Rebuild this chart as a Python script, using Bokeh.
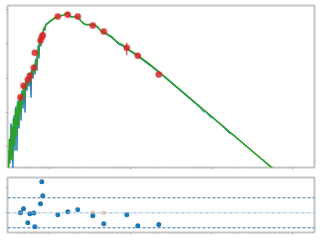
import numpy as np
from bokeh.plotting import figure
from bokeh.layouts import column
from bokeh.models import Range1d, FixedTicker, Span
from bokeh.embed import file_html
from bokeh.resources import INLINE

# ---- data (log10 wavelength, log10 flux) ----
log_wave_model = [2.494, 2.506, 2.519, 2.531, 2.543, 2.556, 2.568, 2.580, 2.593, 2.605,
                  2.617, 2.630, 2.642, 2.654, 2.667, 2.679, 2.691, 2.704, 2.716, 2.728,
                  2.741, 2.753, 2.765, 2.778, 2.790, 2.802, 2.815, 2.827, 2.840, 2.852,
                  2.864, 2.877, 2.889, 2.901, 2.914, 2.926, 2.938, 2.951, 2.963,
                  2.988, 3.012, 3.037, 3.062, 3.086, 3.111, 3.136, 3.160, 3.185, 3.210,
                  3.222, 3.235,
                  3.259, 3.284, 3.309, 3.333, 3.358, 3.383, 3.407, 3.432, 3.457, 3.481,
                  3.506, 3.531, 3.556, 3.580, 3.605, 3.630, 3.654, 3.679, 3.704, 3.728,
                  3.753, 3.778, 3.802, 3.827, 3.852, 3.877, 3.901, 3.926, 3.951, 3.975,
                  4.025, 4.074, 4.123, 4.247, 4.370, 4.617, 4.864, 5.111, 5.358, 5.605,
                  5.728, 6.099]
log_flux_model = [-4.701, -3.766, -4.409, -3.387, -4.409, -3.182, -3.971, -2.891, -3.679, -2.715,
                  -3.387, -2.569, -3.095, -2.423, -2.803, -2.248, -2.599, -2.131, -2.307, -1.985,
                  -2.190, -1.869, -2.073, -1.781, -1.956, -1.635, -1.839, -1.489, -1.664, -1.197,
                  -1.372, -0.905, -1.022, -0.730, -0.788, -0.555, -0.584, -0.467, -0.438,
                  -0.380, -0.336, -0.292, -0.248, -0.219, -0.190, -0.175, -0.175, -0.146, -0.102,
                  -0.088, -0.117,
                  -0.204, -0.219, -0.204, -0.204, -0.234, -0.321, -0.380, -0.423, -0.438, -0.438,
                  -0.438, -0.438, -0.453, -0.482, -0.540, -0.613, -0.642, -0.672, -0.701, -0.745,
                  -0.774, -0.818, -0.876, -0.934, -0.978, -1.007, -1.036, -1.080, -1.124, -1.168,
                  -1.241, -1.314, -1.401, -1.620, -1.860, -2.356, -2.853, -3.349, -3.845, -4.342,
                  -4.584, -5.328]

log_wave_obs = [2.500, 2.512, 2.525, 2.537, 2.549, 2.562, 2.574, 2.586, 2.599, 2.611,
                2.623, 2.636, 2.648, 2.660, 2.673, 2.685, 2.698, 2.710, 2.722, 2.735,
                2.747, 2.759, 2.772, 2.784, 2.796, 2.809, 2.821, 2.833, 2.846, 2.858,
                2.870, 2.883, 2.895, 2.907, 2.920, 2.932, 2.944, 2.957,
                2.988, 3.037, 3.086, 3.136, 3.185, 3.222, 3.259, 3.309, 3.358, 3.407,
                3.457, 3.506, 3.556, 3.605, 3.654, 3.704, 3.753, 3.802, 3.852, 3.901,
                3.951, 4.025, 4.123, 4.247, 4.370, 4.494, 4.617, 4.741, 4.864, 4.901,
                4.926, 4.988, 5.012, 5.111, 5.222, 5.247, 5.333]
log_flux_obs = [-4.117, -4.496, -3.328, -4.117, -4.642, -3.095, -4.117, -2.832, -4.117, -2.657,
                -3.474, -2.540, -3.241, -2.365, -2.891, -2.190, -3.007, -2.073, -2.365, -1.956,
                -2.248, -1.839, -2.569, -1.723, -2.015, -1.606, -1.898, -1.431, -1.781, -1.051,
                -1.431, -0.847, -1.080, -0.701, -0.847, -0.526, -0.613, -0.409,
                -0.394, -0.307, -0.234, -0.190, -0.161, -0.102, -0.219, -0.219, -0.248, -0.394,
                -0.453, -0.453, -0.467, -0.555, -0.672, -0.730, -0.803, -0.905, -1.022, -1.066,
                -1.153, -1.270, -1.431, -1.650, -1.883, -2.131, -2.380, -2.628, -2.876, -2.993,
                -2.978, -3.153, -3.139, -3.358, -3.620, -3.620, -3.796]

log_wave_phot = [2.642, 2.679, 2.732, 2.757, 2.806, 2.819, 2.889, 2.905, 2.917,
                 3.102, 3.226, 3.349, 3.535, 3.670, 3.954, 4.090, 4.349]
log_flux_phot = [-2.561, -2.228, -2.053, -1.936, -1.702, -1.264, -0.905, -0.809, -0.750,
                 -0.204, -0.155, -0.204, -0.467, -0.642, -1.118, -1.352, -1.898]
flux_err_phot = [0, 0, 0, 0, 0, 0, 0, 0, 0, 0, 0, 0, 0, 0, 0.03, 0, 0]
residuals = [0.02, 0.8, -2.0, -0.2, -0.05, -2.8, 1.8, 6.2, 3.4,
             -0.4, 0.2, 0.6, -0.6, -2.2, -0.4, -2.6, -2.34]
log_wave_flag = [3.535, 3.670]
resid_flag = [0.0, 0.0]
sigma_levels = [-3, 3]

wave_model = 10 ** np.array(log_wave_model)
flux_model = 10 ** np.array(log_flux_model)
wave_obs = 10 ** np.array(log_wave_obs)
flux_obs = 10 ** np.array(log_flux_obs)
wave_phot = 10 ** np.array(log_wave_phot)
flux_phot = 10 ** np.array(log_flux_phot)
err = np.array(flux_err_phot)
wave_flag = 10 ** np.array(log_wave_flag)

GRAY = "#c4c4c4"
TICK = "#b4b4b4"


def style(p):
    p.outline_line_color = GRAY
    p.outline_line_width = 2
    p.xgrid.visible = False
    p.ygrid.visible = False
    p.background_fill_color = "white"
    p.border_fill_color = "white"
    for ax in p.axis:
        ax.axis_line_color = None
        ax.major_tick_line_color = TICK
        ax.minor_tick_line_color = TICK
        ax.major_tick_in = 0
        ax.major_tick_out = 2
        ax.minor_tick_in = 0
        ax.minor_tick_out = 1
        ax.major_label_text_font_size = "1px"
        ax.major_label_text_color = None
        ax.major_label_standoff = 0
    p.yaxis.minor_tick_line_color = None


xr = Range1d(10 ** 2.4815, 10 ** 6.2716)

p1 = figure(width=320, height=172, x_axis_type="log", y_axis_type="log",
            x_range=xr, y_range=Range1d(10 ** -4.613, 10 ** 0.117),
            output_backend="svg", toolbar_location=None,
            min_border_left=7, min_border_right=6, min_border_top=5, min_border_bottom=5)
style(p1)
p1.line(wave_obs, flux_obs, line_color="#1f77b4", line_width=1)
p1.line(wave_model, flux_model, line_color="#2ca02c", line_width=1.7)
p1.segment(x0=wave_phot, y0=flux_phot - err, x1=wave_phot, y1=flux_phot + err,
           line_color="#d62728", line_width=1)
p1.scatter(wave_phot, flux_phot, size=6, fill_color="#d62728", fill_alpha=0.85,
           line_color="#d62728", line_alpha=0.3, line_width=1.5)

p2 = figure(width=320, height=68, x_axis_type="log", x_range=xr,
            y_range=Range1d(-3.94, 7.06),
            output_backend="svg", toolbar_location=None,
            min_border_left=7, min_border_right=6, min_border_top=5, min_border_bottom=8)
style(p2)
p2.yaxis.ticker = FixedTicker(ticks=[0, 5])
for lvl in sigma_levels:
    p2.add_layout(Span(location=lvl, dimension="width", line_color="#3a74ad",
                       line_width=1, line_dash="3 2"))
p2.add_layout(Span(location=0, dimension="width", line_color="#86b6e0",
                   line_width=1, line_dash="3 1 1 1"))
p2.scatter(wave_flag, resid_flag, size=5, fill_color="#ff7f0e", fill_alpha=0.35, line_color=None)
p2.scatter(wave_phot, residuals, size=5, fill_color="#1f77b4", line_color=None)

layout = column(p1, p2, spacing=0)
open("out.html", "w").write(file_html(layout, INLINE))
